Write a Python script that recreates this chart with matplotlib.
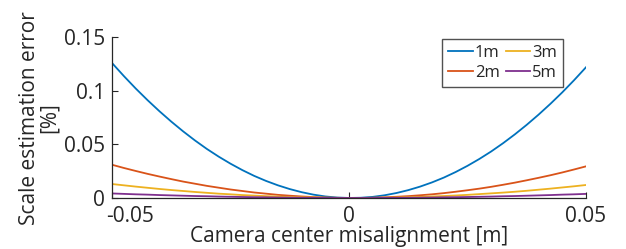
import matplotlib.pyplot as plt
from matplotlib.transforms import ScaledTranslation

# Dados (passo de 0.0025 m)
x = [-0.05, -0.0475, -0.045, -0.0425, -0.04, -0.0375, -0.035, -0.0325, -0.03, -0.0275,
     -0.025, -0.0225, -0.02, -0.0175, -0.015, -0.0125, -0.01, -0.0075, -0.005, -0.0025,
     0.0,
     0.0025, 0.005, 0.0075, 0.01, 0.0125, 0.015, 0.0175, 0.02, 0.0225, 0.025,
     0.0275, 0.03, 0.0325, 0.035, 0.0375, 0.04, 0.0425, 0.045, 0.0475, 0.05]
err_1m = [0.1260, 0.1138, 0.1022, 0.0913, 0.0810, 0.0713, 0.0622, 0.0537, 0.0458, 0.0386,
          0.0320, 0.0260, 0.0206, 0.0159, 0.0118, 0.0083, 0.0054, 0.0031, 0.0014, 0.0004,
          0.0,
          0.0002, 0.0010, 0.0025, 0.0046, 0.0073, 0.0106, 0.0145, 0.0190, 0.0242, 0.0300,
          0.0364, 0.0434, 0.0511, 0.0594, 0.0683, 0.0778, 0.0879, 0.0986, 0.1100, 0.1220]
err_2m = [0.0310, 0.0280, 0.0252, 0.0225, 0.0200, 0.0176, 0.0153, 0.0133, 0.0113, 0.0096,
          0.0079, 0.0065, 0.0051, 0.0040, 0.0029, 0.0021, 0.0014, 0.0008, 0.0004, 0.0001,
          0.0,
          0.0000, 0.0002, 0.0006, 0.0011, 0.0017, 0.0025, 0.0034, 0.0045, 0.0058, 0.0072,
          0.0087, 0.0104, 0.0123, 0.0143, 0.0165, 0.0188, 0.0212, 0.0238, 0.0266, 0.0295]
err_3m = [0.0130, 0.0118, 0.0106, 0.0095, 0.0084, 0.0074, 0.0065, 0.0056, 0.0048, 0.0040,
          0.0034, 0.0027, 0.0022, 0.0017, 0.0013, 0.0009, 0.0006, 0.0004, 0.0002, 0.0001,
          0.0,
          0.0000, 0.0001, 0.0002, 0.0004, 0.0007, 0.0010, 0.0014, 0.0018, 0.0023, 0.0029,
          0.0036, 0.0043, 0.0050, 0.0058, 0.0067, 0.0077, 0.0087, 0.0098, 0.0109, 0.0121]
err_5m = [0.0042, 0.0038, 0.0034, 0.0031, 0.0027, 0.0024, 0.0021, 0.0018, 0.0016, 0.0013,
          0.0011, 0.0009, 0.0007, 0.0006, 0.0004, 0.0003, 0.0002, 0.0001, 0.0001, 0.0000,
          0.0,
          0.0000, 0.0000, 0.0001, 0.0001, 0.0002, 0.0003, 0.0004, 0.0006, 0.0007, 0.0009,
          0.0011, 0.0013, 0.0016, 0.0018, 0.0021, 0.0024, 0.0027, 0.0031, 0.0034, 0.0038]
labels = ['1m', '2m', '3m', '5m']
colors = ['#0072BD', '#D95319', '#EDB120', '#7E2F8E']

xticks = [-0.05, 0, 0.05]
xticklabels = ['-0.05', '0', '0.05']
yticks = [0, 0.05, 0.1, 0.15]
yticklabels = ['0', '0.05', '0.1', '0.15']

plt.rcParams['font.family'] = ['Open Sans', 'DejaVu Sans']
txt = '#262626'

fig = plt.figure(figsize=(6.26, 2.49), dpi=100)
ax = fig.add_axes([0.179, 0.205, 0.757, 0.645])

for serie, lab, c in zip([err_1m, err_2m, err_3m, err_5m], labels, colors):
    ax.plot(x, serie, color=c, lw=1.3, label=lab)

ax.set_xlim(-0.05, 0.05)
ax.set_ylim(0, 0.15)
ax.set_xticks(xticks)
ax.set_xticklabels(xticklabels)
ax.set_yticks(yticks)
ax.set_yticklabels(yticklabels)
ax.tick_params(direction='in', length=4, width=0.8, colors=txt, labelsize=15)
ax.tick_params(axis='y', pad=5)
ax.tick_params(axis='x', pad=6)
for s in ['top', 'right']:
    ax.spines[s].set_visible(False)
for s in ['left', 'bottom']:
    ax.spines[s].set_color(txt)
    ax.spines[s].set_linewidth(0.9)

# primeiro rótulo deslocado para dentro, como no original
lbl0 = ax.get_xticklabels()[0]
lbl0.set_transform(lbl0.get_transform() + ScaledTranslation(0.18, 0, fig.dpi_scale_trans))

ax.set_xlabel('Camera center misalignment [m]', fontsize=15, color=txt, labelpad=-1)
ax.set_ylabel('Scale estimation error\n[%]', fontsize=15, color=txt, labelpad=3, linespacing=0.9)

leg = ax.legend(ncol=2, loc='upper left', bbox_to_anchor=(0.697, 0.99), fontsize=12,
                handlelength=1.45, handletextpad=0.15, columnspacing=0.35,
                borderpad=0.36, labelspacing=0.26, frameon=True, fancybox=False,
                borderaxespad=0)
leg.get_frame().set_edgecolor('#262626')
leg.get_frame().set_linewidth(1.0)
for t in leg.get_texts():
    t.set_color(txt)

fig.savefig('out.png', dpi=100)
